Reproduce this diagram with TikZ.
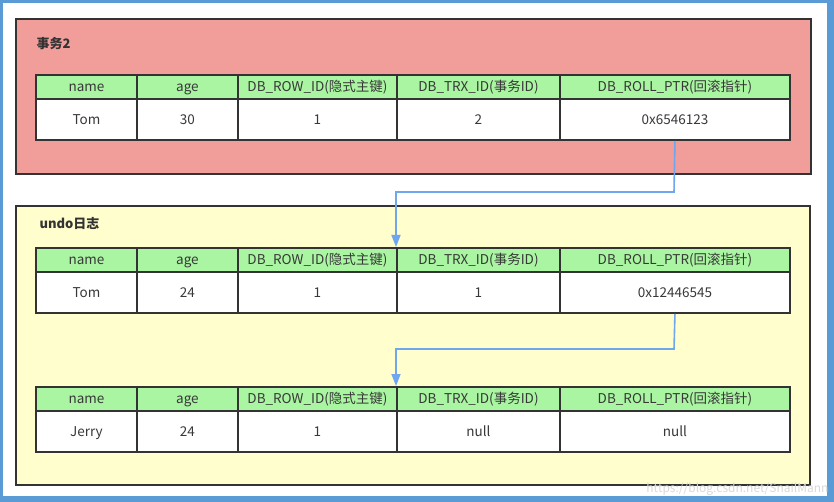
\documentclass[tikz,border=0pt]{standalone}
\usepackage{fontspec}
\newfontfamily\cjk{Noto Sans CJK SC}
\usetikzlibrary{arrows.meta, positioning, calc}
\definecolor{frameblue}{HTML}{5B9BD5}
\definecolor{trxred}{HTML}{F19D9A}
\definecolor{undoyellow}{HTML}{FFFECC}
\definecolor{headgreen}{HTML}{A9F5A1}
\definecolor{cellline}{HTML}{333333}
\definecolor{ptrblue}{HTML}{6EA6F0}

\tikzset{
    cell/.style={draw=cellline, line width=1.9pt, anchor=north west, inner sep=0pt,
        text height=11pt, text depth=1.5pt,
        font=\cjk\fontsize{13.5}{15}\selectfont, text=black!78},
    headcell/.style={cell, fill=headgreen, minimum height=24pt},
    bodycell/.style={cell, fill=white, minimum height=41pt},
    groupbox/.style={draw=cellline, line width=1.6pt, anchor=north west, inner sep=0pt},
    boxtitle/.style={anchor=west, font=\cjk\bfseries\fontsize{13}{15}\selectfont, text=black!80},
    ptr/.style={draw=ptrblue, line width=1.6pt, -{Triangle[length=12pt, width=9pt]}},
}

% one record: #1 prefix, #2 top, #3-#7 the values
\newcommand{\recordrow}[7]{%
    \foreach \x/\w/\hd/\v [count=\i] in {35/101/name/#3, 136/101/age/#4,
        237/159/DB\_ROW\_ID(隐式主键)/#5, 396/163/DB\_TRX\_ID(事务ID)/#6,
        559/230/DB\_ROLL\_PTR(回滚指针)/#7}{
        \node[headcell, minimum width=\w pt] (#1h\i) at (\x,#2) {\hd};
        \node[bodycell, minimum width=\w pt] (#1\i) at (\x,#2+24) {\v};
    }%
}

\begin{document}
\begin{tikzpicture}[x=1pt, y=-1pt]
    \useasboundingbox (0,0) rectangle (834,502);
    \fill[frameblue] (0,0) rectangle (834,502);
    \fill[white] (3,3) rectangle (827,496);

    % transaction 2
    \node[groupbox, fill=trxred, minimum width=795pt, minimum height=155pt] (trxbox) at (15,18) {};
    \node[boxtitle] (trxtitle) at (33,44) {事务2};
    \recordrow{a}{74}{Tom}{30}{1}{2}{0x6546123}

    % undo log
    \node[groupbox, fill=undoyellow, minimum width=794pt, minimum height=279pt] (undobox) at (15,205) {};
    \node[boxtitle] (undotitle) at (36,223) {undo日志};
    \recordrow{b}{247}{Tom}{24}{1}{1}{0x12446545}
    \recordrow{c}{386}{Jerry}{24}{1}{null}{null}

    % roll pointers
    \coordinate (bend1) at (674,192);
    \coordinate (bend2) at (674,349);
    \draw[ptr] (a5.south) -- (bend1) -| (bh4.north west);
    \draw[ptr] (b5.south) -- (bend2) -| (ch4.north west);

    \node[anchor=east, font=\cjk\fontsize{12}{14}\selectfont, text=black!15] (mark) at (832,489) {https://blog.csdn.net/SnailMann};
\end{tikzpicture}
\end{document}
